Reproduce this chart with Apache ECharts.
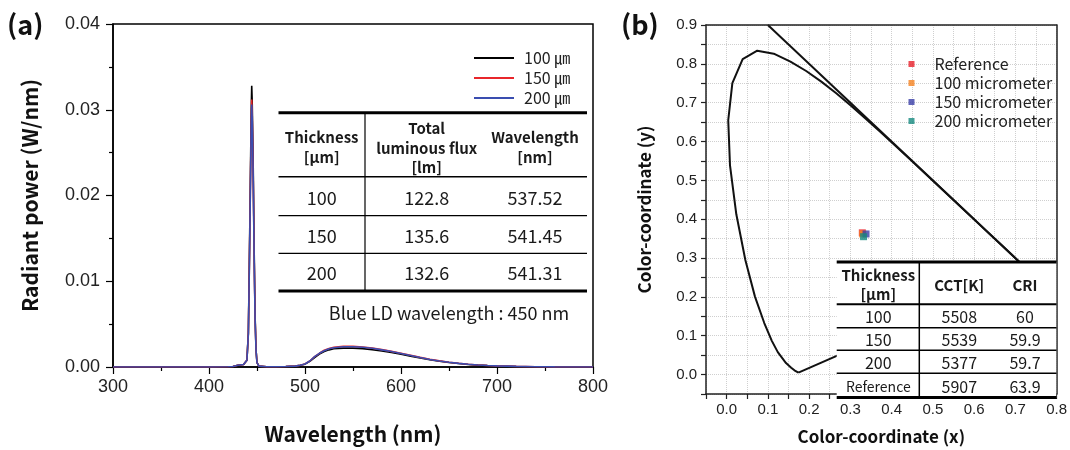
<!DOCTYPE html>
<html lang="en">
<head>
<meta charset="UTF-8">
<title>Spectrum and CIE</title>
<script src="https://cdn.jsdelivr.net/npm/echarts/dist/echarts.min.js"></script>
<style>
  html, body { margin: 0; padding: 0; background: #fff; }
  #chart { width: 1070px; height: 450px; }
</style>
</head>
<body>
<div id="chart"></div>
<script>
// ---- panel (a): spectra ----
const wavelength = [300, 350, 400, 420, 425, 430, 436, 438, 439.5, 441,
  442, 443, 444, 444.5, 445, 446, 447, 448, 449, 450,
  452, 460, 470, 480, 490, 495, 500, 505, 510, 515,
  520, 525, 530, 540, 550, 560, 570, 580, 590, 600,
  610, 620, 630, 640, 650, 660, 670, 680, 690, 700,
  720, 740, 760, 800];
const power100 = [0, 0, 0, 0.00003, 0.00005, 0.0002, 0.0003, 0.0003, 0.0008, 0.004,
  0.012, 0.021, 0.030, 0.0328, 0.031, 0.024, 0.014, 0.006, 0.002, 0.0005,
  0.0001, 0.00003, 0.00003, 0.00005, 0.0001, 0.0002, 0.00033, 0.00065, 0.0011, 0.0015,
  0.0018, 0.002, 0.00212, 0.0022, 0.0022, 0.00214, 0.00203, 0.00188, 0.0017, 0.0015,
  0.00127, 0.00105, 0.00085, 0.00067, 0.00052, 0.0004, 0.0003, 0.00022, 0.00016, 0.00012,
  0.00006, 0.00003, 0.00001, 0];
const power150 = [0, 0, 0, 0.00003, 0.00005, 0.0002, 0.0003, 0.0003, 0.0008, 0.0039,
  0.0115, 0.020, 0.0288, 0.0312, 0.0296, 0.023, 0.0134, 0.0058, 0.002, 0.0005,
  0.0001, 0.00003, 0.00003, 0.00005, 0.0001, 0.0002, 0.00036, 0.0007, 0.0012, 0.0016,
  0.00195, 0.00216, 0.00229, 0.0024, 0.0024, 0.00233, 0.0022, 0.00203, 0.00182, 0.0016,
  0.00136, 0.00112, 0.0009, 0.00071, 0.00056, 0.00043, 0.00032, 0.00024, 0.00018, 0.00013,
  0.00007, 0.00003, 0.00001, 0];
const power200 = [0, 0, 0, 0.00003, 0.00005, 0.0002, 0.0003, 0.0003, 0.0008, 0.0038,
  0.0112, 0.0196, 0.0282, 0.0306, 0.029, 0.0225, 0.0131, 0.0056, 0.0019, 0.0005,
  0.0001, 0.00003, 0.00003, 0.00005, 0.0001, 0.0002, 0.00035, 0.0007, 0.0012, 0.0016,
  0.0019, 0.00212, 0.00225, 0.00236, 0.00236, 0.0023, 0.00218, 0.002, 0.0018, 0.00158,
  0.00134, 0.0011, 0.00088, 0.0007, 0.00055, 0.00042, 0.00032, 0.00024, 0.00018, 0.00013,
  0.00007, 0.00003, 0.00001, 0];
const spectrumNames = ['100 ㎛', '150 ㎛', '200 ㎛'];
const spectrumColors = ['#000000', '#e8262b', '#3a4db0'];

const tableAHead = [['Thickness', '[µm]'], ['Total', 'luminous flux', '[lm]'], ['Wavelength', '[nm]']];
const tableARows = [['100', '122.8', '537.52'], ['150', '135.6', '541.45'], ['200', '132.6', '541.31']];
const noteA = 'Blue LD wavelength : 450 nm';

// ---- panel (b): CIE 1931 chromaticity ----
const locusX = [0.1741, 0.1714, 0.1644, 0.1566, 0.1440, 0.1241, 0.1096, 0.0913, 0.0687, 0.0454,
  0.0235, 0.0082, 0.0039, 0.0139, 0.0389, 0.0743, 0.1142, 0.1547, 0.1929, 0.2296,
  0.2658, 0.3016, 0.3373, 0.3731, 0.4441, 0.5125, 0.5752, 0.6270, 0.6658, 0.6915,
  0.7079, 0.7190, 0.7260, 0.7347, 0.1741];
const locusY = [0.0050, 0.0051, 0.0109, 0.0177, 0.0297, 0.0578, 0.0868, 0.1327, 0.2007, 0.2950,
  0.4127, 0.5384, 0.6548, 0.7502, 0.8120, 0.8338, 0.8262, 0.8059, 0.7816, 0.7543,
  0.7243, 0.6923, 0.6589, 0.6245, 0.5547, 0.4866, 0.4242, 0.3725, 0.3340, 0.3083,
  0.2920, 0.2809, 0.2740, 0.2653, 0.0050];
const diagX = [0.1, 0.75];
const diagY = [0.9, 0.25];

const sampleNames = ['Reference', '100 micrometer', '150 micrometer', '200 micrometer'];
const sampleX = [0.329, 0.330, 0.338, 0.332];
const sampleY = [0.365, 0.362, 0.362, 0.355];
const sampleColors = ['#e8202a', '#f5821f', '#3a3fa8', '#158a80'];

const tableBHead = [['Thickness', '[µm]'], ['CCT[K]'], ['CRI']];
const tableBRows = [['100', '5508', '60'], ['150', '5539', '59.9'], ['200', '5377', '59.7'], ['Reference', '5907', '63.9']];

const KR = '"Noto Sans CJK KR", "Noto Sans", sans-serif';
const ARIAL = '"Liberation Sans", Arial, sans-serif';

function hline(x1, x2, y, w) {
  return { type: 'line', z: 100, shape: { x1: x1, y1: y, x2: x2, y2: y }, style: { stroke: '#000', lineWidth: w } };
}
function vline(x, y1, y2, w) {
  return { type: 'line', z: 100, shape: { x1: x, y1: y1, x2: x, y2: y2 }, style: { stroke: '#000', lineWidth: w } };
}
function label(x, y, s, size, bold) {
  return {
    type: 'text', z: 101, x: x, y: y,
    style: { text: s, fontSize: size, fontWeight: bold ? 'bold' : 'normal', fontFamily: KR, fill: '#1a1a1a', align: 'center', verticalAlign: 'middle' }
  };
}

const graphics = [];
// panel letters
graphics.push({ type: 'text', x: 7, y: 25, style: { text: '(a)', fontSize: 27, fontWeight: 'bold', fontFamily: KR, fill: '#111', verticalAlign: 'middle' } });
graphics.push({ type: 'text', x: 621, y: 25, style: { text: '(b)', fontSize: 27, fontWeight: 'bold', fontFamily: KR, fill: '#111', verticalAlign: 'middle' } });

// table (a)
const aCols = [321.7, 426.7, 535];
graphics.push(hline(278.5, 587, 112.7, 3), hline(278.5, 587, 291, 3));
graphics.push(hline(278.5, 587, 176.7, 1.5), hline(278.5, 587, 215.7, 1.2), hline(278.5, 587, 253.3, 1.2));
graphics.push(vline(365, 112.7, 291, 1.2));
const aHeadY = [[137.3, 157.3], [128.3, 148.3, 167], [137.3, 157]];
tableAHead.forEach((lines, c) => lines.forEach((s, k) => graphics.push(label(aCols[c], aHeadY[c][k], s, 15, true))));
const aRowY = [198, 235.7, 273];
tableARows.forEach((row, r) => row.forEach((s, c) => graphics.push(label(aCols[c], aRowY[r], s, 18, false))));
graphics.push(label(449, 312.7, noteA, 18, false));

// table (b)
const bCols = [878.3, 959.3, 1025];
graphics.push({ type: 'rect', z: 99, shape: { x: 836.7, y: 262, width: 219.5, height: 136 }, style: { fill: '#fff' } });
graphics.push(hline(836.7, 1056.5, 262, 3), hline(836.7, 1056.5, 397.5, 3));
graphics.push(hline(836.7, 1056.5, 304.3, 2), hline(836.7, 1056.5, 327.7, 1.5), hline(836.7, 1056.5, 350.3, 1.5), hline(836.7, 1056.5, 373.3, 1.5));
graphics.push(vline(919.3, 262, 397.5, 1.5));
const bHeadY = [[275.7, 294.3], [285], [285]];
tableBHead.forEach((lines, c) => lines.forEach((s, k) => graphics.push(label(bCols[c], bHeadY[c][k], s, 15, true))));
const bRowY = [316.7, 340, 362.7, 386.7];
tableBRows.forEach((row, r) => row.forEach((s, c) => graphics.push(label(bCols[c], bRowY[r], s, s === 'Reference' ? 14 : 16, false))));

const series = [];
spectrumNames.forEach((n, i) => {
  const ys = [power100, power150, power200][i];
  series.push({
    name: n, type: 'line', xAxisIndex: 0, yAxisIndex: 0, symbol: 'none',
    data: wavelength.map((w, k) => [w, ys[k]]),
    lineStyle: { width: 1.6, color: spectrumColors[i] }, itemStyle: { color: spectrumColors[i] }
  });
});
series.push({
  type: 'line', xAxisIndex: 1, yAxisIndex: 1, symbol: 'none',
  data: locusX.map((x, k) => [x, locusY[k]]), lineStyle: { width: 2, color: '#111' }
});
series.push({
  type: 'line', xAxisIndex: 1, yAxisIndex: 1, symbol: 'none',
  data: diagX.map((x, k) => [x, diagY[k]]), lineStyle: { width: 2, color: '#111' }
});
sampleNames.forEach((n, i) => {
  series.push({
    name: n, type: 'scatter', xAxisIndex: 1, yAxisIndex: 1, symbol: 'rect', symbolSize: 7,
    data: [[sampleX[i], sampleY[i]]], itemStyle: { color: sampleColors[i] }
  });
});

const tickFmtB = v => (Math.abs(Math.round(v * 20)) % 2 === 0 ? v.toFixed(1) : '');
const gridLineB = { show: true, lineStyle: { color: '#cfcfcf', type: 'dotted', width: 1 } };
// plain frame axes for the top and right edges of panel (b)
const frameAxis = {
  gridIndex: 1, type: 'value', z: 5,
  axisLine: { show: true, onZero: false, lineStyle: { color: '#222', width: 1.5 } },
  axisTick: { show: false }, axisLabel: { show: false }, splitLine: { show: false }
};

const option = {
  animation: false,
  backgroundColor: '#fff',
  grid: [
    { left: 113, top: 24, width: 480, height: 352, show: true, borderColor: '#000', borderWidth: 1.5 },
    { left: 706, top: 25, width: 351, height: 375 }
  ],
  legend: [
    {
      data: spectrumNames, orient: 'vertical', left: 469, top: 45, itemGap: 4,
      icon: 'rect', itemWidth: 40, itemHeight: 2,
      textStyle: { fontFamily: KR, fontSize: 16, color: '#222', padding: [0, 0, 0, 5] }
    },
    {
      data: sampleNames, orient: 'vertical', left: 903.5, top: 51, itemGap: 3,
      icon: 'rect', itemWidth: 6, itemHeight: 6,
      textStyle: { fontFamily: KR, fontSize: 16, color: '#222', padding: [0, 0, 0, 15] }
    }
  ],
  xAxis: [
    {
      gridIndex: 0, type: 'value', min: 300, max: 800, interval: 100,
      name: 'Wavelength (nm)', nameLocation: 'middle', nameGap: 57,
      nameTextStyle: { fontFamily: KR, fontWeight: 'bold', fontSize: 21, color: '#111' },
      axisLine: { onZero: false, lineStyle: { color: '#000', width: 1.5 } },
      axisTick: { length: 7, lineStyle: { color: '#000', width: 1.2 } },
      minorTick: { show: true, splitNumber: 2, length: 4, lineStyle: { color: '#000', width: 1.2 } },
      axisLabel: { fontFamily: ARIAL, fontSize: 18, color: '#222', margin: 11 },
      splitLine: { show: false }
    },
    {
      gridIndex: 1, type: 'value', min: -0.05, max: 0.8, interval: 0.05,
      name: 'Color-coordinate (x)', nameLocation: 'middle', nameGap: 34,
      nameTextStyle: { fontFamily: KR, fontWeight: 'bold', fontSize: 17, color: '#111' },
      axisLine: { onZero: false, lineStyle: { color: '#222', width: 1.5 } },
      axisTick: { length: 5, lineStyle: { color: '#222', width: 1.2 } },
      axisLabel: { fontFamily: ARIAL, fontSize: 15, color: '#222', margin: 8, formatter: tickFmtB, showMinLabel: true, showMaxLabel: true },
      splitLine: gridLineB
    },
    Object.assign({ position: 'top', min: -0.05, max: 0.8 }, frameAxis)
  ],
  yAxis: [
    {
      gridIndex: 0, type: 'value', min: 0, max: 0.04, interval: 0.01,
      name: 'Radiant power (W/nm)', nameLocation: 'middle', nameGap: 72,
      nameTextStyle: { fontFamily: KR, fontWeight: 'bold', fontSize: 21, color: '#111' },
      axisLine: { show: true, onZero: false, lineStyle: { color: '#000', width: 1.5 } },
      axisTick: { show: true, length: 7, lineStyle: { color: '#000', width: 1.2 } },
      minorTick: { show: true, splitNumber: 2, length: 4, lineStyle: { color: '#000', width: 1.2 } },
      axisLabel: { fontFamily: ARIAL, fontSize: 18, color: '#222', margin: 13, formatter: v => v.toFixed(2) },
      splitLine: { show: false }
    },
    {
      gridIndex: 1, type: 'value', min: -0.05, max: 0.9, interval: 0.05,
      name: 'Color-coordinate (y)', nameLocation: 'middle', nameGap: 53,
      nameTextStyle: { fontFamily: KR, fontWeight: 'bold', fontSize: 17, color: '#111' },
      axisLine: { show: true, onZero: false, lineStyle: { color: '#222', width: 1.5 } },
      axisTick: { show: true, length: 5, lineStyle: { color: '#222', width: 1.2 } },
      axisLabel: { fontFamily: ARIAL, fontSize: 15, color: '#222', margin: 9, formatter: tickFmtB },
      splitLine: gridLineB
    },
    Object.assign({ position: 'right', min: -0.05, max: 0.9 }, frameAxis)
  ],
  graphic: graphics,
  series: series
};

const chart = echarts.init(document.getElementById('chart'), null, { renderer: 'canvas' });
chart.setOption(option);
</script>
</body>
</html>
